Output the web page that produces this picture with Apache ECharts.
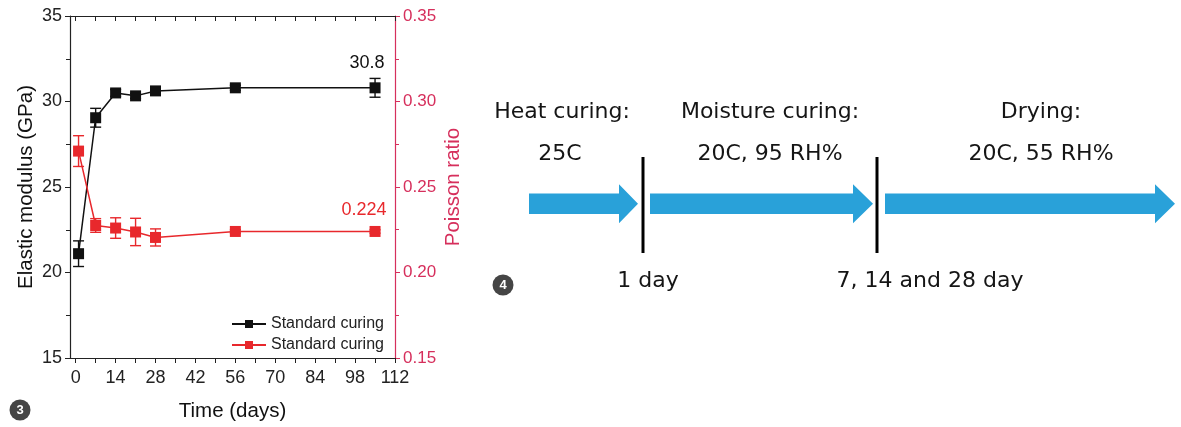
<!DOCTYPE html>
<html>
<head>
<meta charset="utf-8">
<script src="https://cdn.jsdelivr.net/npm/echarts@6/dist/echarts.min.js"></script>
<style>
  html, body { margin: 0; padding: 0; background: #fff; }
  #chart { width: 1181px; height: 427px; }
</style>
</head>
<body>
<div id="chart"></div>
<script>
// panel 3 data
const days = [1, 7, 14, 21, 28, 56, 105];
const modulus = [21.1, 29.05, 30.5, 30.33, 30.62, 30.8, 30.8];
const modulusErr = [0.75, 0.55, 0.2, 0.15, 0.15, 0.15, 0.55];
const poisson = [0.271, 0.2275, 0.226, 0.2237, 0.2205, 0.224, 0.224];
const poissonErr = [0.009, 0.004, 0.006, 0.008, 0.005, 0.001, 0.001];
const xTicks = [0, 14, 28, 42, 56, 70, 84, 98, 112];
const xMinorTicks = [7, 21, 35, 49, 63, 77, 91, 105];
const seriesNames = ['Standard curing', 'Standard curing '];

// panel 4 text
const stageTitles = ['Heat curing:', 'Moisture curing:', 'Drying:'];
const stageConditions = ['25C', '20C, 95 RH%', '20C, 55 RH%'];
const boundaryLabels = ['1 day', '7, 14 and 28 day'];
const panelBadges = ['3', '4'];

const BLACK = '#111';
const RED = '#e8282c';
const AXIS_RED = '#d62f5c';
const BLUE = '#29a1d9';
const FONT = '"Liberation Sans", Arial, sans-serif';
const SKETCH_FONT = '"DejaVu Sans", sans-serif';

const chart = echarts.init(document.getElementById('chart'));

function errorBar(color) {
  return function (params, api) {
    const x = api.value(0);
    const top = api.coord([x, api.value(2)]);
    const bot = api.coord([x, api.value(1)]);
    const h = 5.5;
    const style = { stroke: color, lineWidth: 1.4 };
    return {
      type: 'group',
      children: [
        { type: 'line', shape: { x1: top[0], y1: top[1], x2: bot[0], y2: bot[1] }, style },
        { type: 'line', shape: { x1: top[0] - h, y1: top[1], x2: top[0] + h, y2: top[1] }, style },
        { type: 'line', shape: { x1: bot[0] - h, y1: bot[1], x2: bot[0] + h, y2: bot[1] }, style }
      ]
    };
  };
}

function withEndLabel(values, digits, offset) {
  return days.map((d, i) => i === days.length - 1
    ? { value: [d, values[i]], label: { show: true, position: 'top', offset, formatter: p => p.value[1].toFixed(digits) } }
    : [d, values[i]]);
}

// schematic layout (pixels)
const arrowY = 203.7, shaftHalf = 10.3, headHalf = 19.5;
const arrows = [[529, 619, 638], [650, 853, 873], [885, 1155, 1175]];
const stageCenters = [562, 770, 1041];
const dividers = [643, 877];
const labelCenters = [648, 930];

function arrowShape(a) {
  const [x0, xb, xt] = a;
  return [[x0, arrowY - shaftHalf], [xb, arrowY - shaftHalf], [xb, arrowY - headHalf], [xt, arrowY],
    [xb, arrowY + headHalf], [xb, arrowY + shaftHalf], [x0, arrowY + shaftHalf]];
}

const sketchText = (text, x, y) => ({
  type: 'text', x, y,
  style: { text, fill: '#151515', font: '22px ' + SKETCH_FONT, textAlign: 'center', textVerticalAlign: 'middle' }
});

const graphics = [];
arrows.forEach(a => graphics.push({ type: 'polygon', shape: { points: arrowShape(a) }, style: { fill: BLUE } }));
dividers.forEach(x => graphics.push({ type: 'line', shape: { x1: x, y1: 157, x2: x, y2: 253 }, style: { stroke: '#000', lineWidth: 3 } }));
stageTitles.forEach((t, i) => graphics.push(sketchText(t, stageCenters[i], 112)));
stageConditions.forEach((t, i) => graphics.push(sketchText(t, stageCenters[i] - (i === 0 ? 2 : 0), 154)));
boundaryLabels.forEach((t, i) => graphics.push(sketchText(t, labelCenters[i], 281)));
[[20, 410], [503, 285]].forEach((c, i) => {
  graphics.push({ type: 'circle', shape: { cx: c[0], cy: c[1], r: 10.5 }, style: { fill: '#454545' } });
  graphics.push({ type: 'text', x: c[0], y: c[1] + 0.5, style: { text: panelBadges[i], fill: '#fff', font: 'bold 13px ' + FONT, textAlign: 'center', textVerticalAlign: 'middle' } });
});

const commonX = {
  type: 'value', min: -2, max: 112,
  splitLine: { show: false },
  axisLine: { onZero: false, lineStyle: { color: '#222', width: 1.2 } }
};

chart.setOption({
  backgroundColor: '#fff',
  animation: false,
  textStyle: { fontFamily: FONT },
  grid: { left: 70, right: 786, top: 16, bottom: 67 },
  legend: {
    data: seriesNames,
    orient: 'vertical',
    left: 226, top: 311,
    itemWidth: 34, itemHeight: 10, itemGap: 5,
    formatter: n => n.trim(),
    textStyle: { fontSize: 16, color: '#222', fontFamily: FONT }
  },
  xAxis: [
    Object.assign({}, commonX, {
      position: 'bottom',
      name: 'Time (days)', nameLocation: 'middle', nameGap: 43,
      nameTextStyle: { fontSize: 20.5, color: '#111', fontFamily: FONT },
      axisTick: { length: 5, lineStyle: { color: '#222' }, customValues: xTicks.concat(xMinorTicks) },
      axisLabel: { fontSize: 18, color: '#222', margin: 11, customValues: xTicks }
    }),
    Object.assign({}, commonX, {
      position: 'top',
      axisTick: { inside: true, length: 5, lineStyle: { color: '#222' }, customValues: xTicks.concat(xMinorTicks) },
      axisLabel: { show: false }
    })
  ],
  yAxis: [
    {
      type: 'value', min: 15, max: 35, interval: 5, position: 'left',
      name: 'Elastic modulus (GPa)', nameLocation: 'middle', nameGap: 33, nameRotate: 90,
      nameTextStyle: { fontSize: 20.5, color: '#111', fontFamily: FONT },
      splitLine: { show: false },
      axisLine: { show: true, onZero: false, lineStyle: { color: '#222', width: 1.2 } },
      axisTick: { show: true, length: 5, lineStyle: { color: '#222' } },
      minorTick: { show: true, splitNumber: 2, length: 4, lineStyle: { color: '#222' } },
      axisLabel: { fontSize: 18, color: '#222', margin: 8 }
    },
    {
      type: 'value', min: 0.15, max: 0.35, interval: 0.05, position: 'right',
      name: 'Poisson ratio', nameLocation: 'middle', nameGap: 48, nameRotate: 90,
      nameTextStyle: { fontSize: 20.5, color: AXIS_RED, fontFamily: FONT },
      splitLine: { show: false },
      axisLine: { show: true, onZero: false, lineStyle: { color: AXIS_RED, width: 1.2 } },
      axisTick: { show: true, length: 5, lineStyle: { color: AXIS_RED } },
      minorTick: { show: true, splitNumber: 2, length: 4, lineStyle: { color: AXIS_RED } },
      axisLabel: { fontSize: 17, color: AXIS_RED, margin: 8, formatter: v => v.toFixed(2) }
    }
  ],
  series: [
    {
      type: 'custom', name: 'modulus error', xAxisIndex: 0, yAxisIndex: 0, z: 1,
      renderItem: errorBar(BLACK), encode: { x: 0, y: [1, 2] },
      data: days.map((d, i) => [d, modulus[i] - modulusErr[i], modulus[i] + modulusErr[i]])
    },
    {
      type: 'custom', name: 'poisson error', xAxisIndex: 0, yAxisIndex: 1, z: 1,
      renderItem: errorBar(RED), encode: { x: 0, y: [1, 2] },
      data: days.map((d, i) => [d, poisson[i] - poissonErr[i], poisson[i] + poissonErr[i]])
    },
    {
      type: 'line', name: seriesNames[0], xAxisIndex: 0, yAxisIndex: 0, z: 3,
      symbol: 'rect', symbolSize: 11,
      lineStyle: { color: BLACK, width: 1.5 },
      itemStyle: { color: BLACK },
      label: { color: '#111', fontSize: 18, fontFamily: FONT },
      data: withEndLabel(modulus, 1, [-8, -5])
    },
    {
      type: 'line', name: seriesNames[1], xAxisIndex: 0, yAxisIndex: 1, z: 3,
      symbol: 'rect', symbolSize: 11,
      lineStyle: { color: RED, width: 1.5 },
      itemStyle: { color: RED },
      label: { color: RED, fontSize: 18, fontFamily: FONT },
      data: withEndLabel(poisson, 3, [-11, -2])
    }
  ],
  graphic: graphics
});
</script>
</body>
</html>
